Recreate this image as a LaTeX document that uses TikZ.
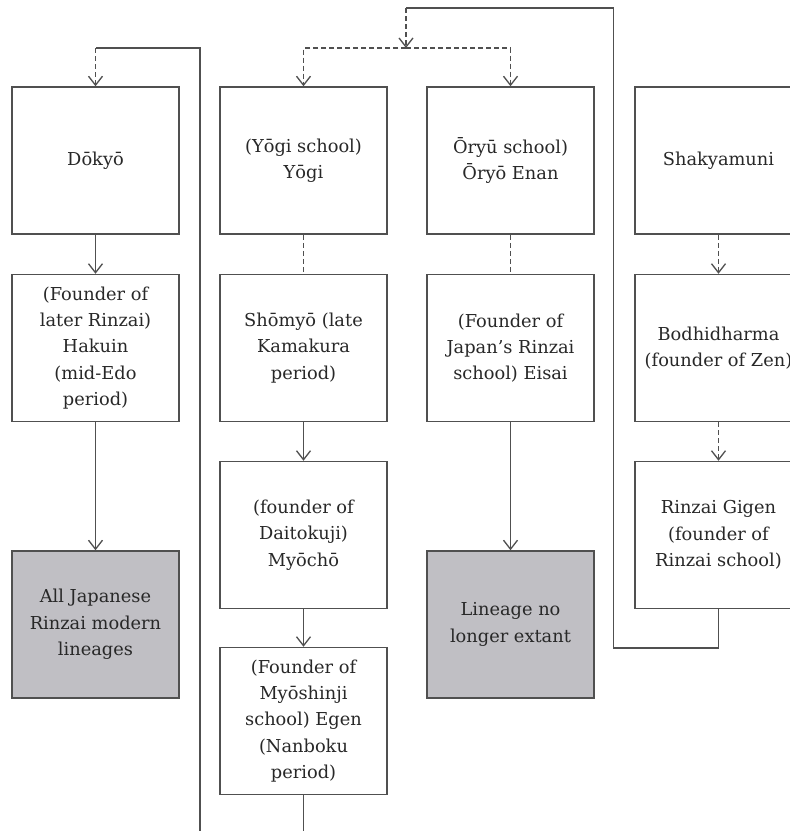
\documentclass[tikz,border=0pt]{standalone}
\usepackage{fontspec}
\setmainfont{DejaVu Serif}
\usetikzlibrary{arrows.meta}
\definecolor{linec}{RGB}{80,80,80}
\definecolor{textc}{RGB}{40,40,40}
\definecolor{shade}{RGB}{192,191,196}
\begin{document}
\begin{tikzpicture}[x=1pt,y=-1pt,
  box/.style={draw=linec,line width=1.5pt,rectangle,minimum width=167pt,minimum height=147pt,
    inner sep=0pt,align=center,text=textc,font=\fontsize{17.8}{26.3}\selectfont},
  endbox/.style={box,fill=shade},
  link/.style={draw=linec,line width=1.3pt},
  tip/.style={-{Straight Barb[length=9pt,width=14pt,line width=1.3pt]}},
  dashlink/.style={link,dash pattern=on 5pt off 3pt}]
\useasboundingbox (0,0) rectangle (790,831);
\clip (0,0) rectangle (790,831);
\fill[white] (0,0) rectangle (790,831);

% column 1
\node[box] (dokyo) at (95.5,160.5) {Dōkyō};
\node[box] (hakuin) at (95.5,348) {(Founder of\\later Rinzai)\\Hakuin\\(mid-Edo\\period)};
\node[endbox] (modern) at (95.5,624.5) {All Japanese\\Rinzai modern\\lineages};

% column 2
\node[box] (yogi) at (303.5,160.5) {(Yōgi school)\\Yōgi};
\node[box] (shomyo) at (303.5,348) {Shōmyō (late\\Kamakura\\period)};
\node[box] (myocho) at (303.5,535) {(founder of\\Daitokuji)\\Myōchō};
\node[box] (egen) at (303.5,721) {(Founder of\\Myōshinji\\school) Egen\\(Nanboku\\period)};

% column 3
\node[box] (oryo) at (510.5,160.5) {Ōryū school)\\Ōryō Enan};
\node[box] (eisai) at (510.5,348) {(Founder of\\Japan’s Rinzai\\school) Eisai};
\node[endbox] (extinct) at (510.5,624.5) {Lineage no\\longer extant};

% column 4
\node[box] (shakya) at (718.5,160.5) {Shakyamuni};
\node[box] (bodhi) at (718.5,348) {Bodhidharma\\(founder of Zen)};
\node[box] (gigen) at (718.5,535) {Rinzai Gigen\\(founder of\\Rinzai school)};

% turning points of the long connectors
\coordinate (gigenturn) at (718.5,648);
\coordinate (rightturn) at (613.5,8);
\coordinate (top) at (406,8);
\coordinate (split) at (406,48);
\coordinate (dokyoturn) at (95.5,48);
\coordinate (egenturn) at (303.5,850);
\coordinate (leftturn) at (200,850);

% straight links
\draw[link,tip] (dokyo) -- (hakuin);
\draw[link,tip] (hakuin) -- (modern);
\draw[dashlink] (yogi) -- (shomyo);
\draw[link,tip] (shomyo) -- (myocho);
\draw[link,tip] (myocho) -- (egen);
\draw[dashlink] (oryo) -- (eisai);
\draw[link,tip] (eisai) -- (extinct);
\draw[dashlink,tip] (shakya) -- (bodhi);
\draw[dashlink,tip] (bodhi) -- (gigen);

% Rinzai Gigen up to the two branches
\draw[link] (gigen.south) -- (gigenturn) -| (rightturn) -- (top);
\draw[dashlink,tip] (top) -- (split);
\draw[dashlink,tip] (split) -| (yogi.north);
\draw[dashlink,tip] (split) -| (oryo.north);

% Egen round to Dokyo
\draw[link] (egen.south) -- (egenturn) -- (leftturn) |- (dokyoturn);
\draw[dashlink,tip] (dokyoturn) -- (dokyo.north);
\end{tikzpicture}
\end{document}
